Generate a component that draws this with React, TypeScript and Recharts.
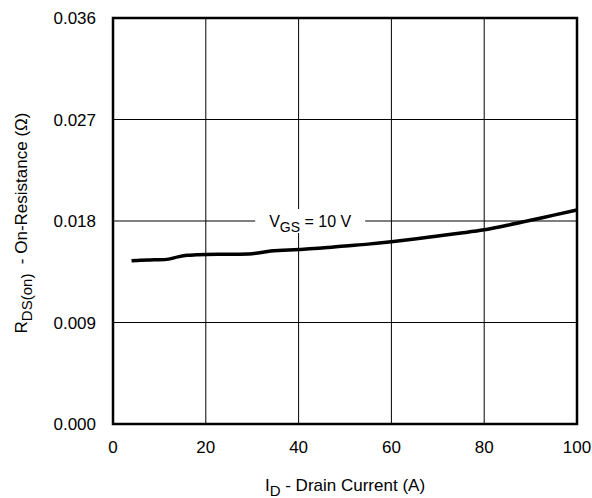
import React from 'react';
import {
  LineChart,
  Line,
  XAxis,
  YAxis,
  CartesianGrid,
  ReferenceArea,
  ReferenceDot,
} from 'recharts';

const current = [4, 6, 8, 10, 12, 14, 16, 18, 20, 25, 30, 34, 40, 45, 50, 55, 60, 65, 70, 75, 80, 85, 90, 95, 100];
const resistance = [
  0.01448, 0.01453, 0.01455, 0.01456, 0.01462, 0.01482, 0.01496, 0.015, 0.01503, 0.01505, 0.0151, 0.01533,
  0.01547, 0.0156, 0.01578, 0.01595, 0.01616, 0.0164, 0.01667, 0.01693, 0.01722, 0.01762, 0.01806, 0.01852,
  0.01897,
];
const xTicks = [0, 20, 40, 60, 80, 100];
const yTicks = [0, 0.009, 0.018, 0.027, 0.036];

const data = current.map((id, i) => ({ id, r: resistance[i] }));

const FONT = 'Liberation Sans, Arial, sans-serif';

const VgsLabel = (props: any) => {
  const { cx, cy } = props;
  return (
    <g>
      <rect x={cx - 55} y={cy - 12} width={110} height={24} fill="#fff" />
      <text x={cx} y={cy + 6} textAnchor="middle" fontFamily={FONT} fontSize={16} fill="#000">
        V
        <tspan fontSize={14} dy={5}>GS</tspan>
        <tspan dy={-5}> = 10 V</tspan>
      </text>
    </g>
  );
};

const YLabel = (props: any) => {
  const { viewBox } = props;
  const cx = 22;
  const cy = viewBox.y + viewBox.height / 2 + 2;
  return (
    <text
      transform={`translate(${cx},${cy}) rotate(-90)`}
      textAnchor="middle"
      fontFamily={FONT}
      fontSize={17}
      fill="#000"
      dy={5}
      style={{ whiteSpace: 'pre' }}
    >
      R<tspan fontSize={15} dy={5}>DS(on)</tspan>
      <tspan dy={-5}>{'  - On-Resistance (Ω)'}</tspan>
    </text>
  );
};

const XLabel = (props: any) => {
  const { viewBox } = props;
  const cx = viewBox.x + viewBox.width / 2;
  return (
    <text x={cx} y={491} textAnchor="middle" fontFamily={FONT} fontSize={17} fill="#000">
      I<tspan fontSize={15} dy={5}>D</tspan>
      <tspan dy={-5}> - Drain Current (A)</tspan>
    </text>
  );
};

export default function App() {
  return (
    <div style={{ position: 'absolute', left: 0, top: 0, background: '#fff' }}>
      <LineChart width={592} height={498} data={data} margin={{ top: 18, right: 15, left: 0, bottom: 0 }}>
        <CartesianGrid stroke="#000" strokeWidth={1} fill="none" />
        <XAxis
          type="number"
          dataKey="id"
          domain={[0, 100]}
          ticks={xTicks}
          height={74}
          tickLine={false}
          axisLine={false}
          tick={{ fill: '#000', fontSize: 17, fontFamily: FONT }}
          tickMargin={11}
          label={<XLabel />}
        />
        <YAxis
          type="number"
          domain={[0, 0.036]}
          ticks={yTicks}
          width={113}
          tickLine={false}
          axisLine={false}
          tickFormatter={(v: number) => v.toFixed(3)}
          tick={{ fill: '#000', fontSize: 17, fontFamily: FONT }}
          tickMargin={11}
          label={<YLabel />}
        />
        <ReferenceDot x={42.5} y={0.018} shape={<VgsLabel />} />
        <Line
          type="monotone"
          dataKey="r"
          stroke="#000"
          strokeWidth={3.5}
          dot={false}
          isAnimationActive={false}
        />
        <ReferenceArea x1={0} x2={100} y1={0} y2={0.036} fill="none" stroke="#000" strokeWidth={2.5} ifOverflow="visible" />
      </LineChart>
    </div>
  );
}
